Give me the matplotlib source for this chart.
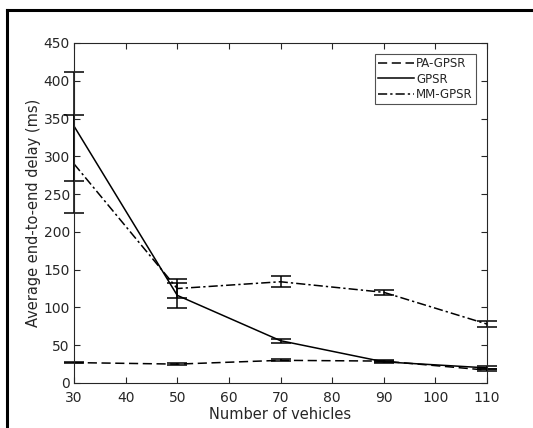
import matplotlib
matplotlib.use("Agg")
import matplotlib.pyplot as plt
from matplotlib.lines import Line2D

vehicles = [30, 50, 70, 90, 110]
pa_gpsr = [27, 25, 30, 29, 17]
pa_gpsr_err = [1, 1, 1.5, 1, 1]
gpsr = [340, 116, 56, 28, 20]
gpsr_err = [72, 17, 2.5, 1, 2]
mm_gpsr = [290, 125, 134, 120, 78]
mm_gpsr_err = [65, 12, 7.5, 3, 3.5]

xticks = [30, 40, 50, 60, 70, 80, 90, 100, 110]
yticks = [0, 50, 100, 150, 200, 250, 300, 350, 400, 450]

plt.rcParams['font.family'] = ['DejaVu Sans']
txt = '#262626'

fig = plt.figure(figsize=(5.33, 4.28), dpi=100)
ax = fig.add_axes([74/533, 1-383/428, (487-74)/533, (383-43)/428])

series = [
    (pa_gpsr, pa_gpsr_err, (0, (6, 3)), 'PA-GPSR'),
    (gpsr, gpsr_err, '-', 'GPSR'),
    (mm_gpsr, mm_gpsr_err, (0, (6, 2, 1.5, 2)), 'MM-GPSR'),
]
for vals, err, ls, lab in series:
    ax.plot(vehicles, vals, color='black', linestyle=ls, linewidth=1.1, label=lab)
    eb = ax.errorbar(vehicles, vals, yerr=err, fmt='none', ecolor='black',
                     elinewidth=1.1, capsize=7.5, capthick=1.1)
    for art in eb.lines[1]:
        art.set_clip_on(False)
    for coll in eb.lines[2]:
        coll.set_clip_on(False)

ax.set_xlim(30, 110)
ax.set_ylim(0, 450)
ax.set_xticks(xticks)
ax.set_yticks(yticks)
ax.tick_params(direction='in', top=True, right=True, length=4, width=0.8,
               colors=txt, labelsize=10, labelcolor=txt)
ax.tick_params(axis='x', pad=6)
ax.tick_params(axis='y', pad=3)
for s in ax.spines.values():
    s.set_color(txt)
    s.set_linewidth(0.8)
ax.set_xlabel('Number of vehicles', fontsize=10.5, color=txt, labelpad=1)
ax.set_ylabel('Average end-to-end delay (ms)', fontsize=10.5, color=txt, labelpad=2)

leg = ax.legend(loc='upper right', fontsize=8.5, frameon=True, fancybox=False,
                edgecolor=txt, handlelength=3.0, handletextpad=0.2,
                borderaxespad=0.9, borderpad=0.3, labelspacing=0.2)
leg.get_frame().set_linewidth(0.8)
for t in leg.get_texts():
    t.set_color(txt)

# outer black frame (left and top edges of the clipped image)
fig.add_artist(Line2D([7/533, 7/533], [0, 1-10/428], transform=fig.transFigure,
                      color='black', linewidth=2.2))
fig.add_artist(Line2D([7/533, 1], [1-10/428, 1-10/428], transform=fig.transFigure,
                      color='black', linewidth=2.2))

fig.savefig('out.png', dpi=100)
